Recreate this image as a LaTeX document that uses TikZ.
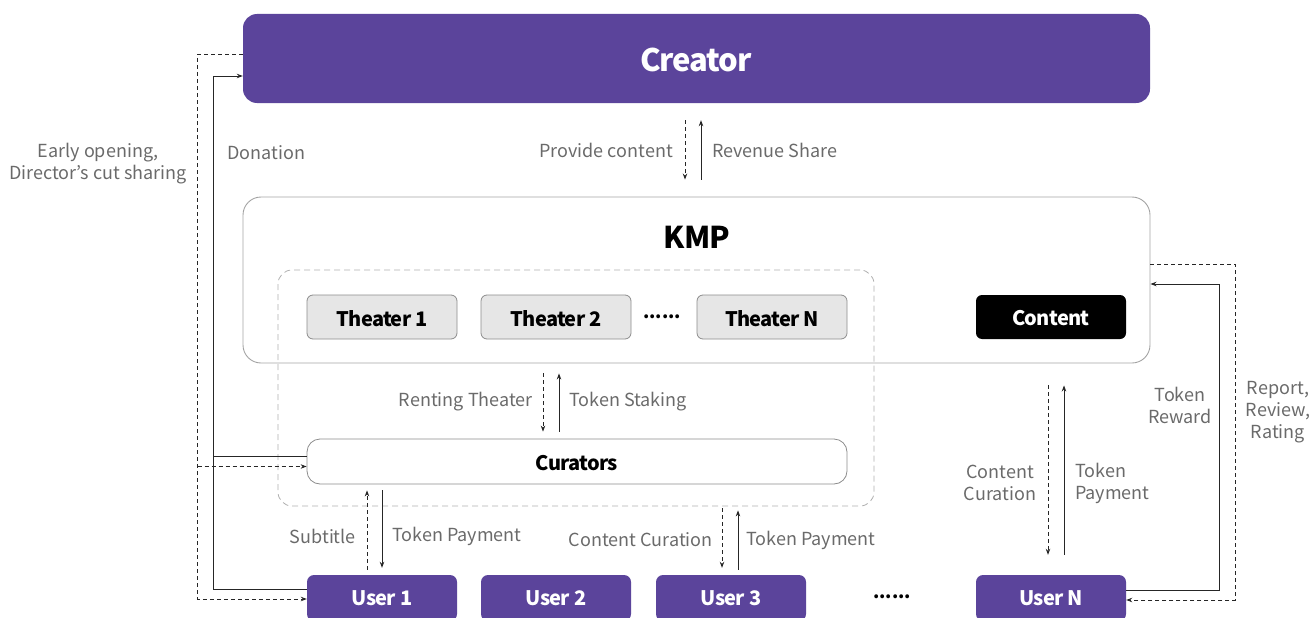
\documentclass[tikz,border=0pt]{standalone}
\usepackage{fontspec}
\setmainfont{Noto Sans CJK KR}
\newfontfamily\bcond{Noto Sans CJK KR}[LetterSpace=-3.5]
\usetikzlibrary{arrows.meta}
\definecolor{kpurple}{HTML}{5B449B}
\definecolor{lblgray}{HTML}{6A6A6A}
\definecolor{boxgray}{HTML}{E6E6E6}
\definecolor{edgegray}{HTML}{8C8C8C}
\tikzset{
  x=1pt, y=-1pt,
  tip/.style={-{Stealth[length=6pt,width=4.5pt]}},
  sl/.style={draw=black!85, line width=0.9pt, tip},
  dl/.style={draw=black!85, line width=0.9pt, dash pattern=on 4pt off 3pt, tip},
  sline/.style={draw=black!85, line width=0.9pt},
  lbl/.style={text=lblgray, font=\fontsize{18}{22}\selectfont, inner sep=0pt},
  bfont/.style={font=\bcond\bfseries\fontsize{20}{24}\selectfont},
  purplebox/.style={fill=kpurple, draw=none, text=white, bfont, rounded corners=7pt, minimum width=150pt, minimum height=46pt, inner sep=0pt, text depth=0pt, text height=14pt},
  theater/.style={fill=boxgray, draw=edgegray, line width=0.8pt, bfont, rounded corners=6pt, minimum width=150pt, minimum height=44pt, inner sep=0pt},
}
\begin{document}
\begin{tikzpicture}
\useasboundingbox (0,0) rectangle (1311,618);
% Creator
\node[fill=kpurple, text=white, rounded corners=14pt, minimum width=907pt, minimum height=89pt, inner sep=0pt] (creator) at (696.5,58.5) {};
\node[text=white, inner sep=0pt, font=\bcond\bfseries\fontsize{31}{36}\selectfont] (creatort) at (696,60) {Creator};
% KMP
\node[draw=edgegray!80, line width=0.9pt, rounded corners=18pt, minimum width=907pt, minimum height=166pt, inner sep=0pt] (kmp) at (696.5,280) {};
\node[font=\bcond\bfseries\fontsize{30}{34}\selectfont, inner sep=0pt] (kmpt) at (697,237) {KMP};
% dashed region
\node[draw=edgegray!70, line width=0.8pt, dash pattern=on 6pt off 4pt, rounded corners=14pt, minimum width=596pt, minimum height=236pt, inner sep=0pt] (reg) at (576,388) {};
% theaters
\node[theater] (t1) at (382,317) {};
\node[bfont, inner sep=0pt] (t1t) at (382,318.5) {Theater 1};
\node[theater] (t2) at (556,317) {};
\node[bfont, inner sep=0pt] (t2t) at (556,318.5) {Theater 2};
\node[font=\bfseries\fontsize{18}{20}\selectfont, inner sep=0pt] (tdots) at (662,317) {......};
\node[theater] (tn) at (772,317) {};
\node[bfont, inner sep=0pt] (tnt) at (772,318.5) {Theater N};
\node[fill=black, rounded corners=6pt, minimum width=150pt, minimum height=44pt, inner sep=0pt] (content) at (1051,317) {};
\node[bfont, text=white, inner sep=0pt] (contentt) at (1051,318.5) {Content};
% curators
\node[draw=edgegray, fill=white, line width=0.8pt, rounded corners=13pt, minimum width=540pt, minimum height=45pt, inner sep=0pt] (cur) at (577,461.5) {};
\node[bfont, inner sep=0pt] (curt) at (577,463) {Curators};
% users
\node[purplebox] (u1) at (382,598) {User 1};
\node[purplebox] (u2) at (556,598) {User 2};
\node[purplebox] (u3) at (731,598) {User 3};
\node[font=\bfseries\fontsize{18}{20}\selectfont, inner sep=0pt] (udots) at (892,597) {......};
\node[purplebox] (un) at (1051,598) {User N};

% Creator <-> KMP
\draw[dl] ([xshift=-11.5pt,yshift=-17pt]creator.south) -- ([xshift=-11.5pt,yshift=17pt]kmp.north);
\draw[sl] ([xshift=4.5pt,yshift=17pt]kmp.north) -- ([xshift=4.5pt,yshift=-17pt]creator.south);
\node[lbl, anchor=east] (pc) at (673,150) {Provide content};
\node[lbl, anchor=west] (rs) at (712,150) {Revenue Share};

% KMP <-> Curators
\draw[dl] ([xshift=-153.5pt,yshift=-10pt]kmp.south) -- ([xshift=-153.5pt,yshift=7pt]kmp.south |- cur.north);
\draw[sl] ([xshift=-137.5pt,yshift=7pt]kmp.south |- cur.north) -- ([xshift=-137.5pt,yshift=-10pt]kmp.south);
\node[lbl, anchor=east] (rt) at (533,402) {Renting Theater};
\node[lbl, anchor=west] (ts) at (569,402) {Token Staking};

% Curators <-> User 1
\draw[dl] ([xshift=-15pt,yshift=5pt]u1.north) -- ([xshift=-15pt,yshift=-6pt]u1.north |- cur.south);
\draw[sl] ([yshift=-6pt]u1.north |- cur.south) -- ([yshift=7pt]u1.north);
\node[lbl, anchor=east] (sub) at (356,536) {Subtitle};
\node[lbl, anchor=west] (tp1) at (392,536) {Token Payment};

% region <-> User 3
\draw[dl] ([xshift=-9pt,yshift=-2pt]u3.north |- reg.south) -- ([xshift=-9pt,yshift=7pt]u3.north);
\draw[sl] ([xshift=7pt,yshift=5pt]u3.north) -- ([xshift=7pt,yshift=-4pt]u3.north |- reg.south);
\node[lbl, anchor=east] (cc3) at (713,540) {Content Curation};
\node[lbl, anchor=west] (tp3) at (746,540) {Token Payment};

% KMP <-> User N
\draw[dl] ([xshift=-3pt,yshift=-22pt]un.north |- kmp.south) -- ([xshift=-3pt,yshift=20pt]un.north);
\draw[sl] ([xshift=13pt,yshift=20pt]un.north) -- ([xshift=13pt,yshift=-22pt]un.north |- kmp.south);
\node[lbl, align=center] (ccn) at (1000,483) {Content\\Curation};
\node[lbl, align=left, anchor=west] (tpn) at (1075,483) {Token\\Payment};

% right loops
\draw[sl] ([yshift=8pt]un.east) -- ++(93,0) |- ([yshift=-4pt]kmp.east);
\draw[dl] ([yshift=16pt]kmp.east) -- ++(85,0) |- ([yshift=-2pt]un.east);
\node[lbl, align=center] (trw) at (1180,405) {Token\\Reward};
\node[lbl, align=center] (rrr) at (1278,412) {Report,\\Review,\\Rating};

% left loops
\draw[sl] ([yshift=9pt]u1.west) -- ++(-93,0) |- ([yshift=-17.5pt]creator.west);
\draw[sline] ([yshift=5.5pt]cur.west) -- ++(-93,0);
\draw[dl] ([yshift=4.5pt]creator.west) -- ++(-45,0) |- ([yshift=-1pt]u1.west);
\draw[dl] ([xshift=-109pt,yshift=-5pt]cur.west) -- ([yshift=-5pt]cur.west);
\node[lbl, anchor=west] (don) at (227,153) {Donation};
\node[lbl, align=center] (eo) at (98,164) {Early opening,\\Director’s cut sharing};
\end{tikzpicture}
\end{document}
